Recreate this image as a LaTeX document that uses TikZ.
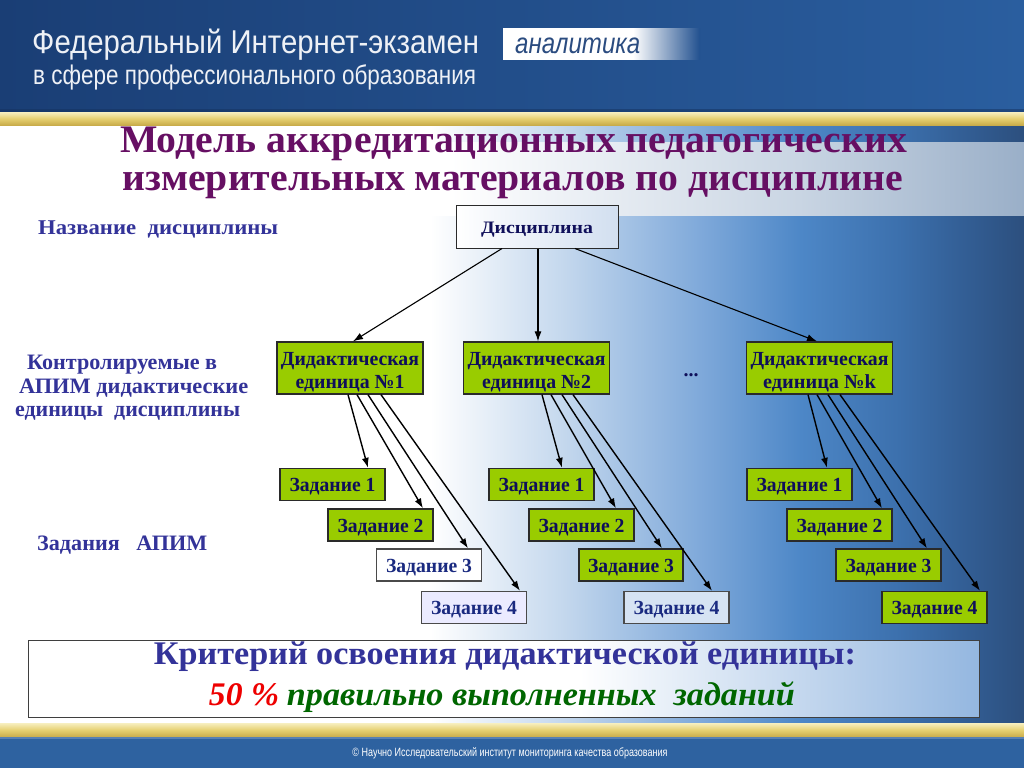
\documentclass[tikz,border=0pt]{standalone}
\usepackage{fontspec}
\usepackage{graphicx}
\setmainfont{Liberation Serif}
\newfontfamily\hdrfont{Liberation Sans}
\usetikzlibrary{arrows.meta,calc}

\definecolor{titlec}{HTML}{660F63}
\definecolor{labelc}{HTML}{333399}
\definecolor{navyc}{HTML}{0F0F5A}
\definecolor{navyw}{HTML}{1A2A80}
\definecolor{greenfill}{HTML}{99CC00}
\definecolor{boxline}{HTML}{2A2A2A}
\definecolor{hdrL}{HTML}{1A3E75}
\definecolor{hdrR}{HTML}{2A5E9F}
\definecolor{hdrM}{HTML}{21508F}
\definecolor{hdrtext}{HTML}{EEF1F6}
\definecolor{anac}{HTML}{2B4C80}
\definecolor{goldA}{HTML}{F7EFC0}
\definecolor{goldB}{HTML}{E6D071}
\definecolor{goldC}{HTML}{C9AC4A}
\definecolor{footc}{HTML}{2E62A0}
\definecolor{bodyB}{HTML}{C6D9EE}
\definecolor{bodyC}{HTML}{7FA9DA}
\definecolor{bodyD}{HTML}{4D87C7}
\definecolor{bodyE}{HTML}{3C70AD}
\definecolor{bodyF}{HTML}{335F96}
\definecolor{bodyG}{HTML}{2C4F7E}
\definecolor{bandB}{HTML}{C9D5E3}
\definecolor{bandC}{HTML}{9AAFC8}
\definecolor{critB}{HTML}{94B7E0}
\definecolor{discR}{HTML}{D2DFF0}
\definecolor{lightfill}{HTML}{D6E3F3}
\definecolor{critgreen}{HTML}{006600}
\definecolor{critred}{HTML}{EE0000}

\pgfdeclarehorizontalshading{bodyshade}{100bp}{color(0bp)=(white); color(46bp)=(white); color(52.3bp)=(bodyB); color(59.2bp)=(bodyC); color(64.1bp)=(bodyD); color(68.9bp)=(bodyE); color(71.9bp)=(bodyF); color(75bp)=(bodyG); color(100bp)=(bodyG)}
\pgfdeclarehorizontalshading{bandshade}{100bp}{color(0bp)=(white); color(47bp)=(white); color(64bp)=(bandB); color(75bp)=(bandC); color(100bp)=(bandC)}
\pgfdeclarehorizontalshading{critshade}{100bp}{color(0bp)=(white); color(54bp)=(white); color(75bp)=(critB); color(100bp)=(critB)}
\pgfdeclarehorizontalshading{anashade}{100bp}{color(0bp)=(white); color(25bp)=(white); color(58bp)=(white); color(75bp)=(hdrM); color(100bp)=(hdrM)}

\newcommand\fitw[2]{\resizebox{#1}{\height}{#2}}

\tikzset{
  unitbox/.style={draw=boxline, line width=1.3pt, fill=greenfill, minimum width=146pt, minimum height=52pt, inner sep=0pt, align=center, text=navyc, font=\bfseries\fontsize{20}{23}\selectfont},
  taskg/.style={draw=boxline, line width=1.3pt, fill=greenfill, minimum width=105pt, minimum height=32pt, inner sep=0pt, text height=17pt, text depth=3pt, text=navyc, font=\bfseries\fontsize{20}{22}\selectfont},
  taskw/.style={taskg, fill=white, draw=boxline!85, text=navyw},
  taskl/.style={taskg, fill=lightfill, draw=boxline!85, text=navyw},
  discbox/.style={draw=boxline, line width=1pt, left color=white, right color=discR, minimum width=162pt, minimum height=43pt, inner sep=0pt, text height=17pt, text depth=3pt, text=navyc, font=\bfseries\fontsize{17.5}{19}\selectfont},
  lbl/.style={anchor=base west, text=labelc, font=\bfseries\fontsize{22}{24}\selectfont, inner sep=0pt},
  arr/.style={-{Latex[length=10pt,width=7pt]}, line width=1.4pt, draw=black},
  toparr/.style={-{Latex[length=10pt,width=7pt]}, line width=1.1pt, draw=black},
  hdrtxt/.style={anchor=base west, text=hdrtext, inner sep=0pt}
}

\begin{document}
\begin{tikzpicture}[x=1pt,y=-1pt]
\useasboundingbox (0,0) rectangle (1024,768);

% backgrounds
\shade[shading=bodyshade] (0,124) rectangle (1024,724);
\shade[shading=bandshade] (0,142) rectangle (1024,215);
\shade[left color=hdrL, right color=hdrR] (0,0) rectangle (1024,112);
\fill[hdrL!80!black, opacity=0.5] (0,109) rectangle (1024,112);
\shade[top color=goldA, bottom color=goldC, middle color=goldB] (0,112) rectangle (1024,125);
\shade[top color=goldA, bottom color=goldC, middle color=goldB] (0,723) rectangle (1024,737);
\fill[footc] (0,737) rectangle (1024,768);
\fill[footc!80!white] (0,737) rectangle (1024,739);

% header
\shade[shading=anashade] (503,29) rectangle (700,59);
\node[hdrtxt, font=\hdrfont\fontsize{33}{35}\selectfont] (h1) at (32,53) {\fitw{447pt}{Федеральный Интернет-экзамен}};
\node[hdrtxt, font=\hdrfont\fontsize{27}{29}\selectfont] (h2) at (33,84) {\fitw{443pt}{в сфере профессионального образования}};
\node[anchor=base west, inner sep=0pt, text=anac, font=\hdrfont\itshape\fontsize{29}{30}\selectfont] (ana) at (515,53) {\fitw{125pt}{аналитика}};

% title
\node[anchor=base, inner sep=0pt, text=titlec, font=\bfseries\fontsize{39}{41}\selectfont] (t1) at (513.5,152) {\fitw{787pt}{Модель аккредитационных педагогических}};
\node[anchor=base, inner sep=0pt, text=titlec, font=\bfseries\fontsize{39}{41}\selectfont] (t2) at (513,190) {\fitw{780pt}{измерительных материалов по дисциплине}};

% left labels
\node[lbl, font=\bfseries\fontsize{21}{23}\selectfont] (l1) at (38,234) {\fitw{240pt}{Название\ \ дисциплины}};
\node[lbl] (l2a) at (27,369) {\fitw{190pt}{Контролируемые в}};
\node[lbl] (l2b) at (19,393) {\fitw{229pt}{АПИМ дидактические}};
\node[lbl] (l2c) at (15,416) {\fitw{225pt}{единицы\ \ дисциплины}};
\node[lbl] (l3) at (37,550) {\fitw{170pt}{Задания\ \ \ АПИМ}};

% main nodes
\node[discbox] (disc) at (537,226.5) {\fitw{112pt}{Дисциплина}};
\node[unitbox] (u1) at (350,368) {\rule{0pt}{21pt}\fitw{138pt}{Дидактическая}\\\fitw{109pt}{единица №1}};
\node[unitbox] (u2) at (536.5,368) {\rule{0pt}{21pt}\fitw{138pt}{Дидактическая}\\\fitw{109pt}{единица №2}};
\node[unitbox] (uk) at (819.5,368) {\rule{0pt}{21pt}\fitw{138pt}{Дидактическая}\\\fitw{113pt}{единица №k}};
\node[text=navyc, font=\bfseries\fontsize{20}{22}\selectfont] (dots) at (691,375) {...};

\node[taskg] (t11) at (332.5,484.5) {\fitw{86pt}{Задание 1}};
\node[taskg] (t12) at (380.5,525) {\fitw{86pt}{Задание 2}};
\node[taskw] (t13) at (429,565) {\fitw{86pt}{Задание 3}};
\node[taskl, fill=white!92!blue] (t14) at (474,607.5) {\fitw{86pt}{Задание 4}};

\node[taskg] (t21) at (541.5,484.5) {\fitw{86pt}{Задание 1}};
\node[taskg] (t22) at (581.5,525) {\fitw{86pt}{Задание 2}};
\node[taskg, minimum width=104pt] (t23) at (631,565) {\fitw{86pt}{Задание 3}};
\node[taskl] (t24) at (676.5,607.5) {\fitw{86pt}{Задание 4}};

\node[taskg] (tk1) at (799.5,484.5) {\fitw{86pt}{Задание 1}};
\node[taskg] (tk2) at (839.5,525) {\fitw{86pt}{Задание 2}};
\node[taskg] (tk3) at (888.5,565) {\fitw{86pt}{Задание 3}};
\node[taskg] (tk4) at (934.5,607.5) {\fitw{86pt}{Задание 4}};

% connectors
\draw[toparr] ([xshift=-35pt]disc.south) -- ([xshift=3pt]u1.north);
\draw[toparr] ([xshift=1pt]disc.south) -- ([xshift=1.5pt]u2.north);
\draw[toparr] ([xshift=38pt]disc.south) -- ([xshift=-2.5pt]uk.north);

\draw[arr] ([xshift=-2pt]u1.south) -- ([xshift=35.5pt]t11.north);
\draw[arr] ([xshift=7pt]u1.south) -- ([xshift=42.5pt]t12.north);
\draw[arr] ([xshift=18pt]u1.south) -- ([xshift=39pt]t13.north);
\draw[arr] ([xshift=31pt]u1.south) -- ([xshift=46pt]t14.north);

\draw[arr] ([xshift=5.5pt]u2.south) -- ([xshift=20.5pt]t21.north);
\draw[arr] ([xshift=14.5pt]u2.south) -- ([xshift=34.5pt]t22.north);
\draw[arr] ([xshift=25.5pt]u2.south) -- ([xshift=31pt]t23.north);
\draw[arr] ([xshift=36.5pt]u2.south) -- ([xshift=35.5pt]t24.north);

\draw[arr] ([xshift=-11.5pt]uk.south) -- ([xshift=27.5pt]tk1.north);
\draw[arr] ([xshift=-2.5pt]uk.south) -- ([xshift=42.5pt]tk2.north);
\draw[arr] ([xshift=8.5pt]uk.south) -- ([xshift=38.5pt]tk3.north);
\draw[arr] ([xshift=20.5pt]uk.south) -- ([xshift=45.5pt]tk4.north);

% criterion
\node[draw=boxline!90, line width=1pt, shading=critshade, minimum width=951pt, minimum height=77pt, inner sep=0pt] (crit) at (503.5,678.5) {};
\node[anchor=base, inner sep=0pt, text=labelc, font=\bfseries\fontsize{33}{35}\selectfont] (c1) at (505,664) {\fitw{702pt}{Критерий освоения дидактической единицы:}};
\node[anchor=base, inner sep=0pt, font=\bfseries\itshape\fontsize{33}{35}\selectfont] (c2) at (502,705) {\textcolor{critred}{\fitw{70pt}{50 \%}}\hspace{8pt}\textcolor{critgreen}{\fitw{508pt}{правильно выполненных\ \ заданий}}};

% footer
\node[anchor=base, inner sep=0pt, text=white, font=\hdrfont\fontsize{12}{13}\selectfont] (foot) at (510,756) {\fitw{315pt}{© Научно Исследовательский институт мониторинга качества образования}};
\end{tikzpicture}
\end{document}
